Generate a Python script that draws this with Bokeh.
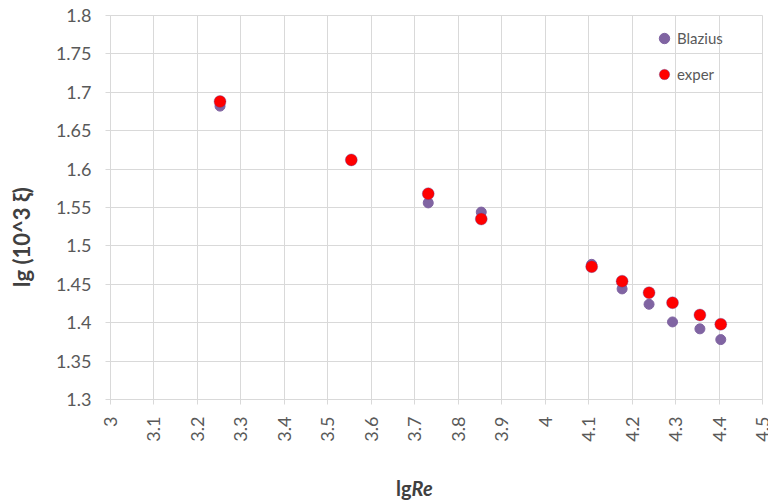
import math
from bokeh.plotting import figure
from bokeh.models import Range1d, FixedTicker, Legend, LegendItem, Div
from bokeh.layouts import column, row
from bokeh.embed import file_html
from bokeh.resources import INLINE

# data
lgRe = [3.252, 3.554, 3.731, 3.853, 4.107, 4.177, 4.239, 4.293, 4.356, 4.404]
blazius = [1.682, 1.612, 1.556, 1.544, 1.476, 1.444, 1.424, 1.401, 1.392, 1.378]
exper = [1.688, 1.612, 1.568, 1.535, 1.473, 1.454, 1.439, 1.426, 1.410, 1.398]

x_ticks = [3.0, 3.1, 3.2, 3.3, 3.4, 3.5, 3.6, 3.7, 3.8, 3.9, 4.0, 4.1, 4.2, 4.3, 4.4, 4.5]
x_tick_labels = ["3", "3.1", "3.2", "3.3", "3.4", "3.5", "3.6", "3.7", "3.8", "3.9",
                 "4", "4.1", "4.2", "4.3", "4.4", "4.5"]
y_ticks = [1.3, 1.35, 1.4, 1.45, 1.5, 1.55, 1.6, 1.65, 1.7, 1.75, 1.8]
y_tick_labels = ["1.3", "1.35", "1.4", "1.45", "1.5", "1.55", "1.6", "1.65", "1.7", "1.75", "1.8"]

FONT = "Lato"
GRID = "#d9d9d9"
TXT = "#595959"
TITLE = "#404040"

LEFT_W = 40

p = figure(width=768 - LEFT_W, height=476, output_backend="svg", toolbar_location=None,
           x_range=Range1d(3.0, 4.5), y_range=Range1d(1.3, 1.8),
           min_border_left=110 - LEFT_W, min_border_right=6, min_border_top=15,
           min_border_bottom=77)

p.outline_line_color = GRID
p.xgrid.grid_line_color = GRID
p.ygrid.grid_line_color = GRID

p.xaxis.ticker = FixedTicker(ticks=x_ticks)
p.yaxis.ticker = FixedTicker(ticks=y_ticks)
p.xaxis.major_label_overrides = {t: l for t, l in zip(x_ticks, x_tick_labels)}
p.yaxis.major_label_overrides = {t: l for t, l in zip(y_ticks, y_tick_labels)}
p.xaxis.major_label_orientation = math.pi / 2

for ax in (p.xaxis, p.yaxis):
    ax.axis_line_color = GRID
    ax.major_tick_line_color = GRID
    ax.major_tick_out = 5
    ax.major_tick_in = 0
    ax.minor_tick_line_color = None
    ax.major_label_text_font = FONT
    ax.major_label_text_font_size = "18px"
    ax.major_label_text_color = TXT
p.yaxis.major_label_standoff = 14
p.xaxis.major_label_standoff = 12

r1 = p.scatter(lgRe, blazius, size=10, fill_color="#8064A2", line_color="#8064A2")
r2 = p.scatter(lgRe, exper, size=12, fill_color="#FF0000", line_color="#5a4aa0",
               line_width=0.6, line_alpha=0.6)

legend = Legend(items=[LegendItem(label="Blazius", renderers=[r1]),
                       LegendItem(label="exper", renderers=[r2])],
                location=(541, 312))
legend.border_line_color = None
legend.background_fill_color = None
legend.padding = 0
legend.margin = 0
legend.glyph_width = 26
legend.glyph_height = 26
legend.label_height = 20
legend.spacing = 10
legend.label_standoff = 0
legend.label_text_font = FONT
legend.label_text_font_size = "15px"
legend.label_text_color = TXT
p.add_layout(legend, "center")

# y axis title (rotated, bold)
ytitle = Div(text="<div style='position:absolute; left:22px; top:237px; "
                  "transform:translate(-50%,-50%) rotate(-90deg); white-space:nowrap; "
                  "font-family:Lato; font-size:22px; font-weight:bold; color:#404040;'>"
                  "lg (10^3 ξ)</div>",
             width=LEFT_W, height=501, margin=0)

# x axis title: "lg" bold + "Re" bold italic
xtitle = Div(text="<div style='padding-left:%dpx; font-family:Lato; font-size:20px; "
                  "font-weight:bold; color:#404040; line-height:25px; white-space:nowrap;'>"
                  "lg<i>Re</i></div>" % (396 - LEFT_W),
             width=768 - LEFT_W, height=25, margin=0)

layout = row(ytitle, column(p, xtitle, spacing=0), spacing=0)
open("out.html", "w").write(file_html(layout, INLINE))
